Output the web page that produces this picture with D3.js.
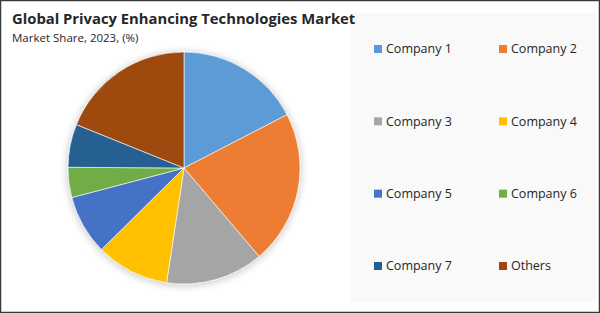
<!DOCTYPE html>
<html>
<head>
<meta charset="utf-8">
<script src="https://cdn.jsdelivr.net/npm/d3@7"></script>
<style>
  body { margin: 0; background: #fff; }
  svg { display: block; font-family: "Open Sans", sans-serif; }
</style>
</head>
<body>
<div id="chart"></div>
<script>
// values
const categories = ["Company 1", "Company 2", "Company 3", "Company 4", "Company 5", "Company 6", "Company 7", "Others"];
const shares = [17.4, 21.4, 13.6, 10.2, 8.3, 4.2, 6.0, 18.9];
const colors = ["#5b9bd5", "#ed7d31", "#a5a5a5", "#ffc000", "#4472c4", "#70ad47", "#255e91", "#9e480e"];

const title = "Global Privacy Enhancing Technologies Market";
const subtitle = "Market Share, 2023, (%)";

const width = 600, height = 313;
const cx = 184, cy = 168, radius = 116;

const data = categories.map((c, i) => ({ name: c, value: shares[i], color: colors[i] }));

const svg = d3.select("#chart").append("svg")
  .attr("width", width)
  .attr("height", height);

// soft shadow under the pie
const defs = svg.append("defs");
const filter = defs.append("filter").attr("id", "shadow")
  .attr("x", "-20%").attr("y", "-20%").attr("width", "140%").attr("height", "140%");
filter.append("feGaussianBlur").attr("in", "SourceAlpha").attr("stdDeviation", 4);
filter.append("feOffset").attr("dx", 0).attr("dy", 1).attr("result", "blur");
filter.append("feComponentTransfer").append("feFuncA").attr("type", "linear").attr("slope", 0.25);
const merge = filter.append("feMerge");
merge.append("feMergeNode");
merge.append("feMergeNode").attr("in", "SourceGraphic");

// legend panel
svg.append("rect")
  .attr("x", 351).attr("y", 13)
  .attr("width", 246).attr("height", 289)
  .attr("fill", "#f9f9f9");

// title
svg.append("text")
  .attr("x", 12).attr("y", 24)
  .attr("font-size", 14.8)
  .attr("font-weight", "bold")
  .attr("fill", "#262626")
  .text(title);

svg.append("text")
  .attr("x", 12).attr("y", 42)
  .attr("font-size", 11.5)
  .attr("fill", "#262626")
  .text(subtitle);

// pie
const pie = d3.pie().sort(null).value(d => d.value);
const arc = d3.arc().innerRadius(0).outerRadius(radius);

const g = svg.append("g")
  .attr("transform", "translate(" + cx + "," + cy + ")");

g.append("g")
  .attr("filter", "url(#shadow)")
  .selectAll("path")
  .data(pie(data))
  .join("path")
  .attr("d", arc)
  .attr("fill", d => d.data.color)
  .attr("stroke", "#ffffff")
  .attr("stroke-width", 0.6);

// legend, 2 columns x 4 rows
const colX = d3.scaleOrdinal().domain([0, 1]).range([374, 499]);
const rowY = d3.scalePoint().domain(d3.range(4)).range([49, 266]);

const legend = svg.append("g")
  .selectAll("g")
  .data(data)
  .join("g")
  .attr("transform", (d, i) => "translate(" + colX(i % 2) + "," + rowY(Math.floor(i / 2)) + ")");

legend.append("rect")
  .attr("x", 0).attr("y", -4)
  .attr("width", 8).attr("height", 8)
  .attr("fill", d => d.color);

legend.append("text")
  .attr("x", 12).attr("y", 0)
  .attr("dy", "0.35em")
  .attr("font-size", 12.5)
  .attr("fill", "#262626")
  .text(d => d.name);

// outer frame
svg.append("rect")
  .attr("x", 0.5).attr("y", 0.5)
  .attr("width", width - 1).attr("height", height - 1)
  .attr("fill", "none")
  .attr("stroke", "#3a3a3a")
  .attr("stroke-width", 1.5);
</script>
</body>
</html>
